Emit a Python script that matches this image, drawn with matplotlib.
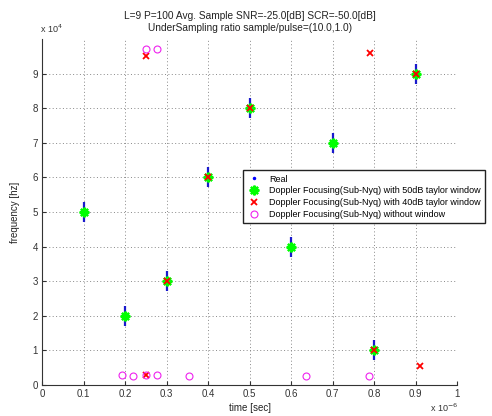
import numpy as np
import matplotlib.pyplot as plt

plt.rcParams['font.family'] = ['Liberation Sans', 'DejaVu Sans']

# time in units of 1e-6 sec, frequency in units of 1e4 hz
real_t = [0.1, 0.2, 0.3, 0.4, 0.5, 0.6, 0.7, 0.8, 0.9]
real_f = [5, 2, 3, 6, 8, 4, 7, 1, 9]

taylor50_t = [0.1, 0.2, 0.3, 0.4, 0.5, 0.6, 0.7, 0.8, 0.9]
taylor50_f = [5, 2, 3, 6, 8, 4, 7, 1, 9]

taylor40_t = [0.3, 0.4, 0.5, 0.8, 0.9, 0.25, 0.25, 0.79, 0.91]
taylor40_f = [3, 6, 8, 1, 9, 9.5, 0.3, 9.6, 0.55]

nowin_t = [0.25, 0.278, 0.192, 0.22, 0.25, 0.278, 0.355, 0.635, 0.787]
nowin_f = [9.7, 9.72, 0.3, 0.25, 0.3, 0.3, 0.25, 0.25, 0.25]

labels = ['Real',
          'Doppler Focusing(Sub-Nyq) with 50dB taylor window',
          'Doppler Focusing(Sub-Nyq) with 40dB taylor window',
          'Doppler Focusing(Sub-Nyq) without window']

fig = plt.figure(figsize=(4.92, 4.16), dpi=100)
ax = fig.add_axes([0.0854, 0.0745, 0.8435, 0.832])

# real targets: vertical spread plus dot
ax.plot(real_t, real_f, ls='none', marker='|', ms=15, mew=1.6, color='#1a1acc')
ax.plot(real_t, real_f, ls='none', marker='.', ms=3, color='#0000ff', label=labels[0])
ax.plot(taylor50_t, taylor50_f, ls='none', marker=(8, 2, 0), ms=7, mew=1.6,
        color='#00ff00', label=labels[1])
ax.plot(taylor40_t, taylor40_f, ls='none', marker='x', ms=5, mew=1.3,
        color='#ff0000', label=labels[2])
ax.plot(nowin_t, nowin_f, ls='none', marker='o', ms=5, mew=0.8, mfc='none',
        color='#ee22ee', label=labels[3])

ax.set_xlim(0, 1)
ax.set_ylim(0, 10)
ax.set_xticks(np.arange(0, 1.01, 0.1))
ax.set_xticklabels(['0', '0.1', '0.2', '0.3', '0.4', '0.5', '0.6', '0.7', '0.8', '0.9', '1'])
ax.set_yticks(range(0, 10))
ax.grid(True, ls=(0, (1, 2.5)), color='#888888', lw=0.7)
ax.spines['top'].set_visible(False)
ax.spines['right'].set_visible(False)
for s in ('left', 'bottom'):
    ax.spines[s].set_color('#333333')
ax.tick_params(direction='in', length=3, labelsize=7, labelcolor='#333333',
               color='#333333', pad=3)

ax.set_xlabel('time [sec]', fontsize=7, labelpad=3, color='#222222')
ax.set_ylabel('frequency [hz]', fontsize=7, labelpad=9, color='#222222')
ax.set_title('L=9 P=100 Avg. Sample SNR=-25.0[dB] SCR=-50.0[dB]\n'
             'UnderSampling ratio sample/pulse=(10.0,1.0)', fontsize=7.3, pad=6,
             linespacing=1.15, color='#222222')

fig.text(0.081, 0.915, r'x 10$^{4}$', fontsize=6.5, ha='left', va='bottom',
         color='#333333')
fig.text(0.932, 0.004, r'x 10$^{-6}$', fontsize=6.5, ha='right', va='bottom',
         color='#333333')

fig.legend(loc='upper left', bbox_to_anchor=(0.484, 0.601), fontsize=6.5,
           fancybox=False, edgecolor='#222222', framealpha=1, borderpad=0.45,
           labelspacing=0.3, handlelength=1.6, handletextpad=0.9)

fig.savefig('out.png', dpi=100)
